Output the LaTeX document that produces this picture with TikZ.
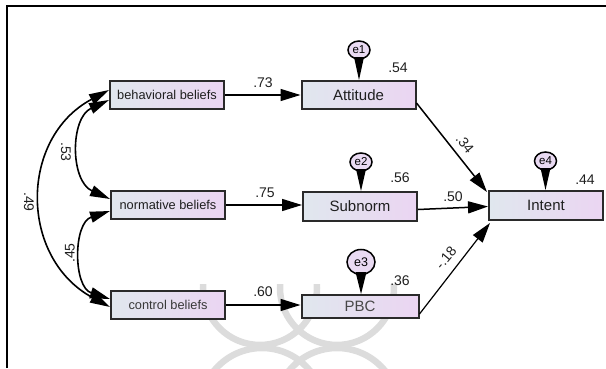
\documentclass[tikz,border=0pt]{standalone}
\usepackage{fontspec}
\setmainfont{Liberation Sans}
\usetikzlibrary{arrows.meta,shapes.geometric}
\definecolor{boxl}{HTML}{E0E7EE}
\definecolor{boxr}{HTML}{EBD5F2}
\definecolor{edgec}{HTML}{2A2A2A}
\definecolor{errfill}{HTML}{E9DAF2}
\definecolor{wmark}{HTML}{DCDCDC}
\begin{document}
\begin{tikzpicture}[x=1pt,y=1pt,
  varbox/.style={draw=edgec, line width=2pt, left color=boxl, right color=boxr,
    minimum width=114pt, minimum height=28pt, inner sep=0pt,
    font=\fontsize{15}{16}\selectfont, text=black!88},
  inbox/.style={varbox, font=\fontsize{12.8}{14}\selectfont},
  errc/.style={ellipse, draw=black, line width=1.5pt, fill=errfill,
    minimum width=22pt, minimum height=18pt, inner sep=0pt,
    font=\fontsize{11.5}{12}\selectfont},
  lab/.style={font=\fontsize{14}{16}\selectfont, text=black!88, inner sep=0pt},
  pathar/.style={line width=1.5pt, -{Triangle[length=20pt,width=12pt]}},
  covar/.style={line width=1.6pt, {Triangle[length=20pt,width=11pt]}-{Triangle[length=20pt,width=11pt]}},
  errtri/.style={fill=black},
]
\useasboundingbox (0,0) rectangle (606,368);
% watermark
\begin{scope}
\clip (8,0) rectangle (606,84);
\draw[wmark, line width=6.5pt] (260,80) circle (57);
\draw[wmark, line width=6.5pt] (337,80) circle (57);
\draw[wmark, line width=6.5pt] (262,-42) circle (62);
\draw[wmark, line width=6.5pt] (337,-42) circle (62);
\end{scope}
% frame
\draw[line width=1.5pt] (7,0) -- (7,362) -- (606,362);
% nodes
\node[inbox] (bb) at (167,273) {behavioral beliefs};
\node[inbox] (nb) at (168,163) {normative beliefs};
\node[inbox, text=black!78] (cb) at (168,63) {control beliefs};
\node[varbox] (att) at (358.5,273) {Attitude};
\node[varbox, minimum height=29pt] (sub) at (360,161.5) {Subnorm};
\node[varbox, minimum width=117pt, minimum height=23pt, text=black!72] (pbc) at (360,61.5) {PBC};
\node[varbox, minimum height=29pt] (int) at (546,162.5) {Intent};
\node[errc] (e1) at (359,318) {e1};
\node[errc] (e2) at (361,206) {e2};
\node[errc, minimum width=28pt, minimum height=25pt, font=\fontsize{12.5}{14}\selectfont] (e3) at (361,106) {e3};
\node[errc] (e4) at (545.5,207) {e4};
% error pointers
\fill[errtri] (e1.center) ++(-5,-7) -- ++(10,0) -- (e1.center |- att.north) -- cycle;
\fill[errtri] (e2.center) ++(-5,-7) -- ++(10,0) -- (e2.center |- sub.north) -- cycle;
\fill[errtri] (e3.center) ++(-5.5,-10) -- ++(11,0) -- (e3.center |- pbc.north) -- cycle;
\fill[errtri] (e4.center) ++(-5,-7) -- ++(10,0) -- (e4.center |- int.north) -- cycle;
% paths
\draw[pathar] (bb.east) -- (att.west);
\draw[pathar] (nb.east) -- (nb.east -| sub.west);
\draw[pathar] (cb.east) -- (cb.east -| pbc.west);
\draw[pathar] ([yshift=7]att.south east) -- ([xshift=-1,yshift=-2]int.north west);
\draw[pathar] ([yshift=-3]sub.east) -- ([yshift=-1]int.west);
\draw[pathar, line width=1.2pt] ([yshift=5]pbc.south east) -- ([xshift=2,yshift=-2]int.south west);
% covariances
\draw[covar] ([yshift=-5]bb.west) .. controls (70,250) and (70,187) .. ([yshift=6]nb.west);
\draw[covar] ([yshift=-6]nb.west) .. controls (73,145) and (73,81) .. ([yshift=6]cb.west);
\draw[covar] ([yshift=5]bb.west) .. controls (19,230) and (19,110) .. ([yshift=-2]cb.west);
% labels
\node[lab] (l54) at (398,300) {.54};
\node[lab] (l56) at (400,190) {.56};
\node[lab] (l36) at (400,87) {.36};
\node[lab] (l44) at (585,188) {.44};
\node[lab] (l73) at (263,285) {.73};
\node[lab] (l75) at (265,175) {.75};
\node[lab] (l60) at (263,76) {.60};
\node[lab] (l50) at (453,171) {.50};
\node[lab, rotate=-51] (l34) at (465,224) {.34};
\node[lab, rotate=50] (l18) at (446,110) {-.18};
\node[lab, rotate=-90] (l53) at (66,216) {.53};
\node[lab, rotate=-90] (l49) at (29,166) {.49};
\node[lab, rotate=90] (l45) at (70,115) {.45};
\end{tikzpicture}
\end{document}
